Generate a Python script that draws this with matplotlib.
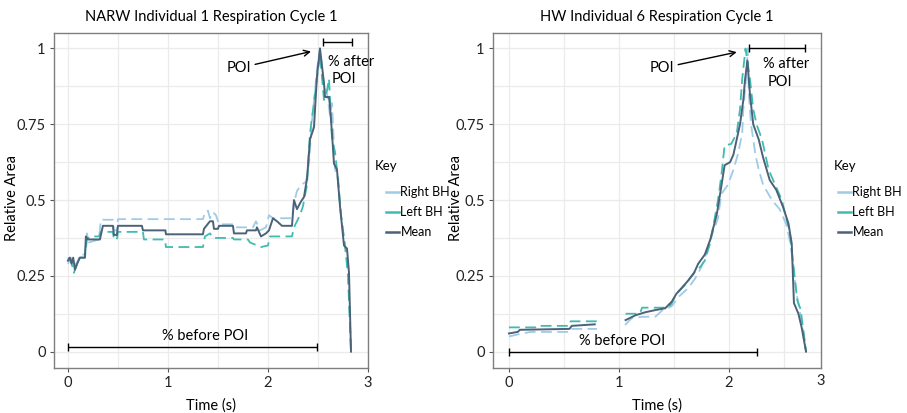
import numpy as np
import matplotlib.pyplot as plt
from matplotlib.lines import Line2D

plt.rcParams['font.family'] = ['Lato', 'DejaVu Sans']

# ---- NARW Individual 1 ----
narw_t_mean = [0.0, 0.02, 0.036, 0.053, 0.07, 0.093, 0.12, 0.17, 0.18, 0.20, 0.32, 0.35, 0.45, 0.46,
               0.49, 0.50, 0.74, 0.75, 0.975, 0.98, 1.35, 1.36, 1.42, 1.45, 1.46, 1.50, 1.51, 1.65,
               1.66, 1.78, 1.79, 1.88, 1.89, 1.93, 1.98, 2.01, 2.05, 2.09, 2.14, 2.24, 2.26, 2.29,
               2.33, 2.36, 2.39, 2.42, 2.46, 2.49, 2.52, 2.56, 2.57, 2.61, 2.62, 2.64, 2.66, 2.69,
               2.72, 2.76, 2.79, 2.81, 2.83]
narw_v_mean = [0.30, 0.31, 0.29, 0.31, 0.27, 0.29, 0.31, 0.31, 0.38, 0.37, 0.37, 0.415, 0.415, 0.385,
               0.385, 0.415, 0.415, 0.40, 0.40, 0.387, 0.387, 0.405, 0.43, 0.43, 0.405, 0.405, 0.415, 0.415,
               0.39, 0.39, 0.40, 0.40, 0.41, 0.38, 0.39, 0.40, 0.44, 0.43, 0.415, 0.415, 0.50, 0.47,
               0.495, 0.51, 0.57, 0.70, 0.74, 0.91, 1.0, 0.885, 0.84, 0.84, 0.81, 0.72, 0.62, 0.60,
               0.48, 0.35, 0.34, 0.26, 0.0]
narw_t_right = [0.0, 0.03, 0.06, 0.10, 0.12, 0.17, 0.19, 0.21, 0.31, 0.33, 0.45, 0.46, 0.49, 0.50, 1.35,
                1.37, 1.40, 1.42, 1.45, 1.48, 1.51, 1.65, 1.66, 1.85, 1.88, 1.92, 1.98, 2.01, 2.05,
                2.24, 2.26, 2.29, 2.33, 2.38, 2.41, 2.44, 2.49, 2.52, 2.56, 2.59, 2.62, 2.64, 2.67,
                2.70, 2.73, 2.77, 2.80, 2.83]
narw_v_right = [0.29, 0.31, 0.28, 0.30, 0.32, 0.32, 0.39, 0.36, 0.37, 0.435, 0.435, 0.40, 0.40, 0.437, 0.437,
                0.46, 0.465, 0.44, 0.46, 0.45, 0.42, 0.42, 0.41, 0.41, 0.43, 0.40, 0.41, 0.45, 0.44,
                0.44, 0.49, 0.53, 0.55, 0.56, 0.62, 0.76, 0.93, 1.0, 0.88, 0.85, 0.78, 0.82, 0.60,
                0.58, 0.45, 0.35, 0.28, 0.0]
narw_t_left = [0.0, 0.03, 0.06, 0.09, 0.12, 0.17, 0.19, 0.22, 0.31, 0.33, 0.45, 0.46, 0.49, 0.50, 0.75,
               0.76, 0.97, 0.98, 1.35, 1.37, 1.42, 1.45, 1.65, 1.66, 1.80, 1.82, 1.93, 2.00, 2.02,
               2.24, 2.26, 2.32, 2.35, 2.39, 2.42, 2.49, 2.52, 2.56, 2.59, 2.61, 2.64, 2.67, 2.69,
               2.73, 2.77, 2.80, 2.83]
narw_v_left = [0.31, 0.30, 0.26, 0.29, 0.31, 0.31, 0.37, 0.38, 0.38, 0.395, 0.395, 0.37, 0.37, 0.395, 0.395,
               0.37, 0.37, 0.345, 0.345, 0.38, 0.39, 0.375, 0.375, 0.37, 0.37, 0.36, 0.345, 0.35, 0.38,
               0.38, 0.41, 0.45, 0.48, 0.55, 0.72, 0.90, 0.98, 0.83, 0.86, 0.90, 0.70, 0.66, 0.60,
               0.45, 0.35, 0.25, 0.0]

# ---- HW Individual 6 (gap between segments = nan) ----
hw_t_mean = [0.0, 0.08, 0.10, 0.55, 0.57, 0.78, np.nan,
             1.06, 1.15, 1.24, 1.33, 1.42, 1.48, 1.52, 1.57, 1.63, 1.68, 1.72, 1.78, 1.83, 1.89,
             1.93, 1.96, 2.01, 2.04, 2.07, 2.10, 2.13, 2.145, 2.167, 2.19, 2.22, 2.27, 2.31, 2.37,
             2.43, 2.49, 2.54, 2.57, 2.59, 2.63, 2.66, 2.70]
hw_v_mean = [0.06, 0.065, 0.072, 0.075, 0.085, 0.09, np.nan,
             0.104, 0.12, 0.13, 0.137, 0.143, 0.165, 0.19, 0.21, 0.235, 0.258, 0.29, 0.32, 0.37, 0.455,
             0.545, 0.615, 0.625, 0.65, 0.70, 0.75, 0.83, 0.895, 0.96, 0.85, 0.75, 0.70, 0.64, 0.566,
             0.533, 0.478, 0.423, 0.357, 0.16, 0.126, 0.08, 0.0]
hw_t_right = [0.0, 0.12, 0.20, 0.55, 0.56, 0.80, np.nan,
              1.055, 1.115, 1.21, 1.33, 1.39, 1.48, 1.54, 1.63, 1.69, 1.75, 1.80, 1.84, 1.90, 1.93,
              1.99, 2.04, 2.08, 2.12, 2.13, 2.16, 2.17, 2.18, 2.20, 2.24, 2.27, 2.31, 2.39, 2.46,
              2.52, 2.55, 2.58, 2.61, 2.65, 2.68, 2.70]
hw_v_right = [0.05, 0.06, 0.065, 0.065, 0.075, 0.075, np.nan,
              0.088, 0.11, 0.115, 0.115, 0.135, 0.15, 0.18, 0.21, 0.24, 0.28, 0.33, 0.38, 0.44, 0.52,
              0.55, 0.60, 0.65, 0.72, 0.80, 0.92, 1.0, 0.85, 0.75, 0.65, 0.60, 0.55, 0.50, 0.47,
              0.42, 0.37, 0.30, 0.20, 0.12, 0.05, 0.0]
hw_t_left = [0.0, 0.24, 0.25, 0.55, 0.56, 0.80, np.nan,
             1.06, 1.19, 1.21, 1.45, 1.48, 1.52, 1.60, 1.68, 1.74, 1.78, 1.83, 1.90, 1.93, 1.96,
             2.02, 2.07, 2.10, 2.12, 2.15, 2.19, 2.22, 2.25, 2.30, 2.36, 2.42, 2.48, 2.52, 2.55,
             2.58, 2.62, 2.65, 2.68, 2.70]
hw_v_left = [0.08, 0.08, 0.085, 0.085, 0.10, 0.10, np.nan,
             0.125, 0.125, 0.145, 0.145, 0.16, 0.19, 0.22, 0.26, 0.28, 0.30, 0.36, 0.50, 0.58, 0.68,
             0.685, 0.72, 0.80, 0.90, 1.0, 0.90, 0.80, 0.75, 0.70, 0.60, 0.55, 0.50, 0.44, 0.40,
             0.30, 0.17, 0.14, 0.06, 0.0]

titulos = ['NARW Individual 1 Respiration Cycle 1', 'HW Individual 6 Respiration Cycle 1']
etiquetas = ['Right BH', 'Left BH', 'Mean']
colores = ['#9fcbe6', '#3fbcb0', '#4b6278']

fs = 10.5

fig = plt.figure(figsize=(9.07, 4.13), dpi=100)
ax1 = fig.add_axes([54 / 907, 1 - 368 / 413, 314 / 907, 335 / 413])
ax2 = fig.add_axes([493 / 907, 1 - 368 / 413, 328 / 907, 335 / 413])

datos = [
    (ax1, narw_t_right, narw_v_right, narw_t_left, narw_v_left, narw_t_mean, narw_v_mean, -0.11),
    (ax2, hw_t_right, hw_v_right, hw_t_left, hw_v_left, hw_t_mean, hw_v_mean, -0.09),
]

for i, (ax, tr, vr, tl, vl, tm, vm, xlab) in enumerate(datos):
    ax.plot(tr, vr, color=colores[0], lw=1.3, dashes=(6, 3), zorder=3)
    ax.plot(tl, vl, color=colores[1], lw=1.3, dashes=(6, 3), zorder=3)
    ax.plot(tm, vm, color=colores[2], lw=1.4, zorder=4)

    ax.set_xticks([0, 1, 2, 3])
    ax.set_yticks([0, 0.25, 0.5, 0.75, 1])
    ax.set_yticklabels(['0', '0.25', '0.5', '0.75', '1'])
    ax.set_xticks([0.5, 1.5, 2.5], minor=True)
    ax.set_yticks([0.125, 0.375, 0.625, 0.875], minor=True)
    ax.grid(which='both', color='#ebebeb', lw=0.9)
    ax.set_axisbelow(True)
    ax.tick_params(which='major', length=3, color='#555555', labelsize=fs, labelcolor='#222222', pad=3)
    ax.tick_params(which='minor', length=0)
    for s in ax.spines.values():
        s.set_color('#7f7f7f')
        s.set_linewidth(1.0)
    ax.set_title(titulos[i], fontsize=10.5, pad=9)
    ax.set_xlabel('Time (s)', fontsize=fs, labelpad=6)
    ax.set_ylabel('Relative Area', fontsize=fs)
    ax.yaxis.set_label_coords(xlab, 0.507)
    ax.set_ylim(-0.054, 1.051)

ax1.set_xlim(-0.139, 3.0)
ax2.set_xlim(-0.145, 2.836)
ax2.text(1.0, -0.018, '3', transform=ax2.transAxes, ha='center', va='top', fontsize=fs, color='#222222')

# Anotaciones panel 1
ax1.annotate('POI', xy=(2.43, 0.99), xytext=(1.83, 0.935), fontsize=fs, ha='right', va='center',
             arrowprops=dict(arrowstyle='->', color='black', lw=1.0, shrinkA=1, shrinkB=0))
ax1.errorbar(2.695, 1.02, xerr=0.145, color='black', lw=1.0, capsize=3, zorder=5)
ax1.text(2.60, 0.955, '% after', fontsize=fs, va='center', ha='left', clip_on=False)
ax1.text(2.64, 0.90, 'POI', fontsize=fs, va='center', ha='left')
ax1.errorbar(1.245, 0.015, xerr=1.245, color='black', lw=1.0, capsize=3, zorder=5)
ax1.text(1.37, 0.05, '% before POI', fontsize=fs, va='center', ha='center')

# Anotaciones panel 2
ax2.annotate('POI', xy=(2.07, 0.988), xytext=(1.5, 0.935), fontsize=fs, ha='right', va='center',
             arrowprops=dict(arrowstyle='->', color='black', lw=1.0, shrinkA=1, shrinkB=0))
ax2.errorbar(2.435, 1.0, xerr=0.255, color='black', lw=1.0, capsize=3, zorder=5)
ax2.text(2.31, 0.95, '% after', fontsize=fs, va='center', ha='left')
ax2.text(2.35, 0.89, 'POI', fontsize=fs, va='center', ha='left')
ax2.errorbar(1.125, 0.0, xerr=1.125, color='black', lw=1.0, capsize=3, zorder=5)
ax2.text(1.03, 0.035, '% before POI', fontsize=fs, va='center', ha='center')

# Leyendas (titulo "Key" aparte, entradas algo sangradas)
handles = [Line2D([], [], color=c, lw=1.8) for c in colores]
for x_key, x_leg in ((375, 381), (834, 833)):
    fig.text(x_key / 907, 1 - 166 / 413, 'Key', fontsize=9.5, va='center', ha='left')
    fig.legend(handles, etiquetas, loc='upper left', bbox_to_anchor=(x_leg / 907, 1 - 181 / 413),
               frameon=False, fontsize=9, handlelength=1.0, handletextpad=0.15,
               labelspacing=0.65, borderaxespad=0)

fig.savefig('out.png', dpi=100)
